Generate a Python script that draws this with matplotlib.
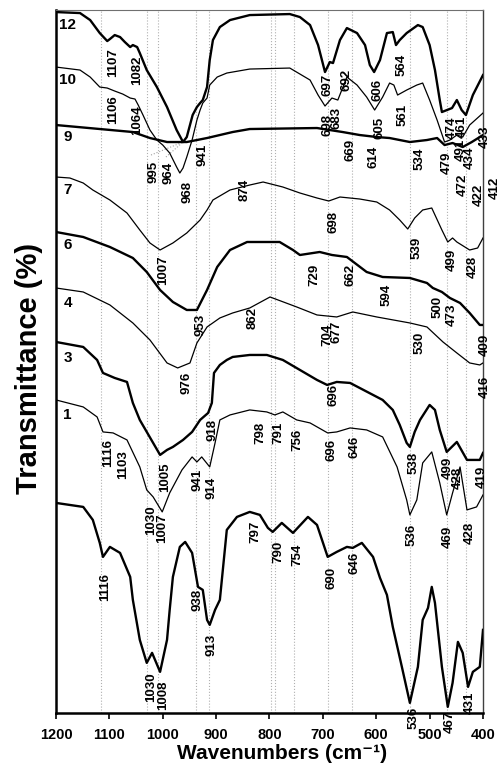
import matplotlib
matplotlib.use('Agg')
import matplotlib.pyplot as plt

plt.rcParams['font.family'] = ['Liberation Sans', 'DejaVu Sans']
plt.rcParams['font.weight'] = 'bold'

# spectra: wavenumber (cm-1) and transmittance (a.u., already offset)
w12 = [1200, 1155, 1136, 1118, 1104, 1099, 1090, 1080, 1071, 1061, 1056, 1048, 1043, 1030, 1011, 992, 974, 962,
       955, 944, 936, 930, 925, 917, 912, 906, 893, 874, 837, 762, 743, 724, 709, 696, 687, 681, 668, 655, 636,
       621, 612, 604, 593, 580, 569, 563, 556, 543, 522, 513, 500, 490, 481, 477, 458, 449, 440, 432, 419, 400]
t12 = [701, 700, 693, 680, 672, 674, 678, 676, 671, 666, 668, 666, 660, 643, 626, 606, 583, 571,
       576, 598, 606, 610, 613, 626, 653, 673, 686, 693, 698, 699, 696, 688, 668, 641, 651, 650, 673, 685, 680,
       668, 648, 641, 653, 680, 681, 668, 673, 680, 688, 686, 668, 643, 613, 601, 605, 613, 603, 598, 618, 638]

w10 = [1200, 1155, 1136, 1118, 1104, 1090, 1075, 1061, 1052, 1046, 1037, 1024, 1011, 1000, 987, 974, 968, 962,
       955, 945, 936, 930, 925, 917, 912, 898, 880, 837, 762, 724, 709, 696, 683, 672, 655, 636, 618, 603, 588,
       575, 567, 560, 543, 524, 513, 500, 486, 472, 462, 449, 438, 425, 400]
t10 = [646, 643, 636, 626, 625, 622, 619, 615, 614, 608, 598, 583, 573, 568, 560, 546, 540, 545,
       556, 573, 593, 603, 610, 615, 628, 636, 640, 644, 645, 633, 618, 607, 615, 613, 636, 628, 616, 603, 616,
       630, 628, 618, 623, 628, 630, 613, 593, 571, 573, 578, 576, 588, 600]

w9 = [1200, 1056, 1024, 992, 955, 917, 869, 837, 711, 663, 631, 599, 575, 537, 505, 486, 472, 457, 438, 421, 400]
t9 = [588, 581, 575, 571, 571, 575, 581, 584, 585, 581, 578, 576, 575, 571, 573, 575, 568, 570, 566, 571, 578]

w7 = [1200, 1174, 1149, 1131, 1099, 1067, 1043, 1024, 1005, 981, 955, 930, 917, 906, 874, 837, 812, 775, 743,
      711, 689, 668, 631, 599, 575, 556, 541, 528, 513, 496, 477, 466, 457, 449, 425, 410, 400]
t7 = [536, 535, 530, 523, 513, 500, 483, 470, 463, 470, 480, 493, 503, 513, 523, 528, 531, 526, 520,
      515, 512, 516, 514, 511, 503, 493, 484, 495, 503, 505, 483, 471, 475, 471, 463, 465, 475]

w6 = [1200, 1149, 1099, 1056, 1030, 1005, 981, 955, 936, 917, 898, 874, 842, 781, 756, 743, 706, 683, 655, 618,
      588, 537, 505, 494, 477, 462, 443, 425, 406, 400]
t6 = [481, 476, 466, 455, 441, 423, 411, 403, 403, 423, 446, 463, 471, 471, 463, 458, 461, 458, 456, 441,
      436, 435, 430, 425, 421, 415, 410, 400, 388, 388]

w4 = [1200, 1149, 1099, 1056, 1024, 992, 972, 949, 936, 917, 893, 869, 837, 799, 749, 711, 674, 644, 599, 537,
      505, 475, 449, 425, 406, 400]
t4 = [425, 421, 408, 390, 373, 350, 345, 350, 370, 386, 395, 400, 405, 416, 406, 398, 396, 401, 396, 390,
      386, 371, 360, 350, 348, 350]

w3 = [1200, 1149, 1123, 1112, 1090, 1067, 1056, 1043, 1018, 1005, 992, 981, 962, 945, 930, 915, 908, 904, 893,
      880, 869, 837, 805, 775, 743, 711, 692, 674, 649, 588, 569, 556, 543, 537, 528, 518, 500, 490, 481, 468,
      449, 430, 406, 400]
t3 = [371, 366, 353, 340, 335, 331, 310, 293, 270, 258, 263, 266, 273, 281, 293, 300, 310, 340, 348,
      353, 356, 358, 358, 353, 343, 333, 328, 331, 330, 313, 303, 288, 270, 266, 281, 293, 308, 303, 283, 261,
      271, 253, 253, 260]

w1 = [1200, 1149, 1123, 1112, 1093, 1067, 1043, 1030, 1018, 1001, 987, 964, 945, 936, 927, 912, 902, 893, 874,
      837, 805, 790, 775, 749, 724, 691, 674, 649, 618, 588, 561, 543, 537, 524, 513, 496, 481, 468, 457, 443,
      430, 412, 400]
t1 = [313, 306, 296, 281, 280, 273, 246, 223, 216, 201, 220, 243, 256, 251, 256, 246, 270, 293, 298,
      303, 301, 298, 301, 293, 290, 280, 281, 285, 283, 276, 246, 213, 198, 213, 250, 261, 230, 198, 220, 246,
      203, 206, 218]

w0 = [1200, 1149, 1131, 1118, 1112, 1099, 1080, 1061, 1056, 1043, 1030, 1020, 1005, 992, 987, 981, 968, 958,
      945, 934, 925, 917, 912, 902, 893, 880, 861, 837, 818, 803, 794, 777, 756, 728, 711, 691, 674, 655, 644,
      627, 606, 593, 580, 569, 552, 537, 522, 513, 503, 496, 490, 477, 466, 457, 447, 438, 428, 419, 406, 400]
t0 = [210, 206, 193, 170, 156, 166, 160, 136, 113, 73, 50, 60, 41, 73, 103, 136, 166, 171,
      160, 126, 123, 93, 88, 103, 113, 183, 196, 201, 198, 185, 181, 190, 180, 196, 188, 156, 161, 166, 165,
      170, 156, 135, 118, 86, 46, 10, 46, 93, 105, 126, 110, 46, 6, 30, 71, 60, 26, 41, 46, 83]

spectra = [(w12, t12, 1.7), (w10, t10, 0.9), (w9, t9, 1.7), (w7, t7, 0.9), (w6, t6, 1.7),
           (w4, t4, 0.9), (w3, t3, 1.7), (w1, t1, 0.9), (w0, t0, 1.7)]

sample_names = ['12', '10', '9', '7', '6', '4', '3', '1']
sample_y = [688, 633, 576, 523, 468, 410, 355, 298]

guide_lines = [1116, 1030, 1008, 938, 913, 797, 790, 754, 690, 646, 536, 467, 431]

# peak labels: text, wavenumber position, height
peaks = [
    ('1107', 1093, 650), ('1082', 1048, 643), ('1106', 1093, 603), ('1064', 1048, 593),
    ('995', 1018, 541), ('964', 990, 540), ('968', 953, 521), ('941', 925, 558),
    ('697', 691, 628), ('692', 655, 633), ('606', 597, 623), ('564', 552, 648),
    ('698', 691, 588), ('683', 674, 595), ('669', 649, 563), ('605', 593, 585),
    ('614', 606, 556), ('561', 550, 598), ('534', 518, 554), ('479', 468, 550),
    ('474', 458, 585), ('461', 440, 586), ('491', 441, 563), ('434', 425, 555),
    ('433', 397, 576), ('472', 438, 528), ('412', 378, 525), ('422', 408, 518),
    ('874', 846, 523), ('698', 681, 491), ('539', 524, 465), ('499', 458, 453),
    ('428', 419, 446), ('729', 715, 438), ('662', 649, 438), ('594', 580, 418),
    ('500', 486, 406), ('473', 458, 398), ('704', 691, 378), ('677', 674, 381),
    ('530', 518, 370), ('409', 397, 368), ('416', 397, 326), ('696', 681, 318),
    ('1007', 1000, 443), ('953', 930, 388), ('862', 831, 395), ('976', 955, 330),
    ('1116', 1103, 260), ('1103', 1075, 248), ('1005', 996, 236), ('941', 934, 233),
    ('914', 908, 225), ('918', 906, 283), ('1030', 1022, 193), ('1007', 1001, 185),
    ('1116', 1108, 126), ('798', 818, 280), ('791', 784, 280), ('756', 747, 273),
    ('696', 683, 263), ('646', 640, 266), ('538', 531, 250), ('499', 466, 245),
    ('428', 447, 235), ('419', 402, 236), ('536', 533, 178), ('469', 466, 176),
    ('428', 425, 180), ('797', 827, 181), ('790', 784, 161), ('754', 747, 158),
    ('690', 683, 135), ('646', 640, 150), ('938', 934, 113), ('913', 908, 68),
    ('1030', 1022, 26), ('1008', 1000, 18), ('536', 531, -5), ('467', 462, -9),
    ('431', 425, 10),
]

# thin leader lines from a label to its band: label end, band point
leaders = [((1022, 558), (962, 571)), ((994, 556), (962, 571))]

fig = plt.figure(figsize=(5, 7.74), dpi=100)
ax = fig.add_axes([0.112, 0.079, 0.854, 0.908])

for wl in guide_lines:
    ax.axvline(wl, color='#b0b0b0', linestyle=':', linewidth=0.8, zorder=1)

for (x0, y0), (x1, y1) in leaders:
    ax.plot([x0, x1], [y0, y1], color='#a0a0a0', linestyle=':', linewidth=0.8, zorder=2)

for w, t, lw in spectra:
    ax.plot(w, t, color='black', linewidth=lw, zorder=3)

for name, y in zip(sample_names, sample_y):
    ax.text(1178, y, name, fontsize=11, fontweight='bold', ha='center', va='center', zorder=4)

for txt, x, y in peaks:
    ax.text(x, y, txt, rotation=90, fontsize=9.5, fontweight='bold', ha='center', va='center', zorder=4)

ax.set_xlim(1200, 400)
ax.set_ylim(0, 703)
ax.set_xticks(range(1200, 399, -100))
ax.set_yticks([])
ax.tick_params(axis='x', direction='out', length=4, width=1.2, labelsize=10.5, pad=7)
for lab in ax.get_xticklabels():
    lab.set_fontweight('bold')

ax.spines['left'].set_linewidth(1.8)
ax.spines['bottom'].set_linewidth(1.8)
ax.spines['top'].set_linewidth(0.8)
ax.spines['top'].set_color('#707070')
ax.spines['right'].set_linewidth(1.0)
ax.spines['right'].set_color('#404040')

ax.set_xlabel('Wavenumbers (cm⁻¹)', fontsize=15, fontweight='bold')
ax.xaxis.set_label_coords(0.53, -0.045)
ax.set_ylabel('Transmittance (%)', fontsize=21, fontweight='bold')
ax.yaxis.set_label_coords(-0.03, 0.49)

fig.savefig('out.png', dpi=100)
